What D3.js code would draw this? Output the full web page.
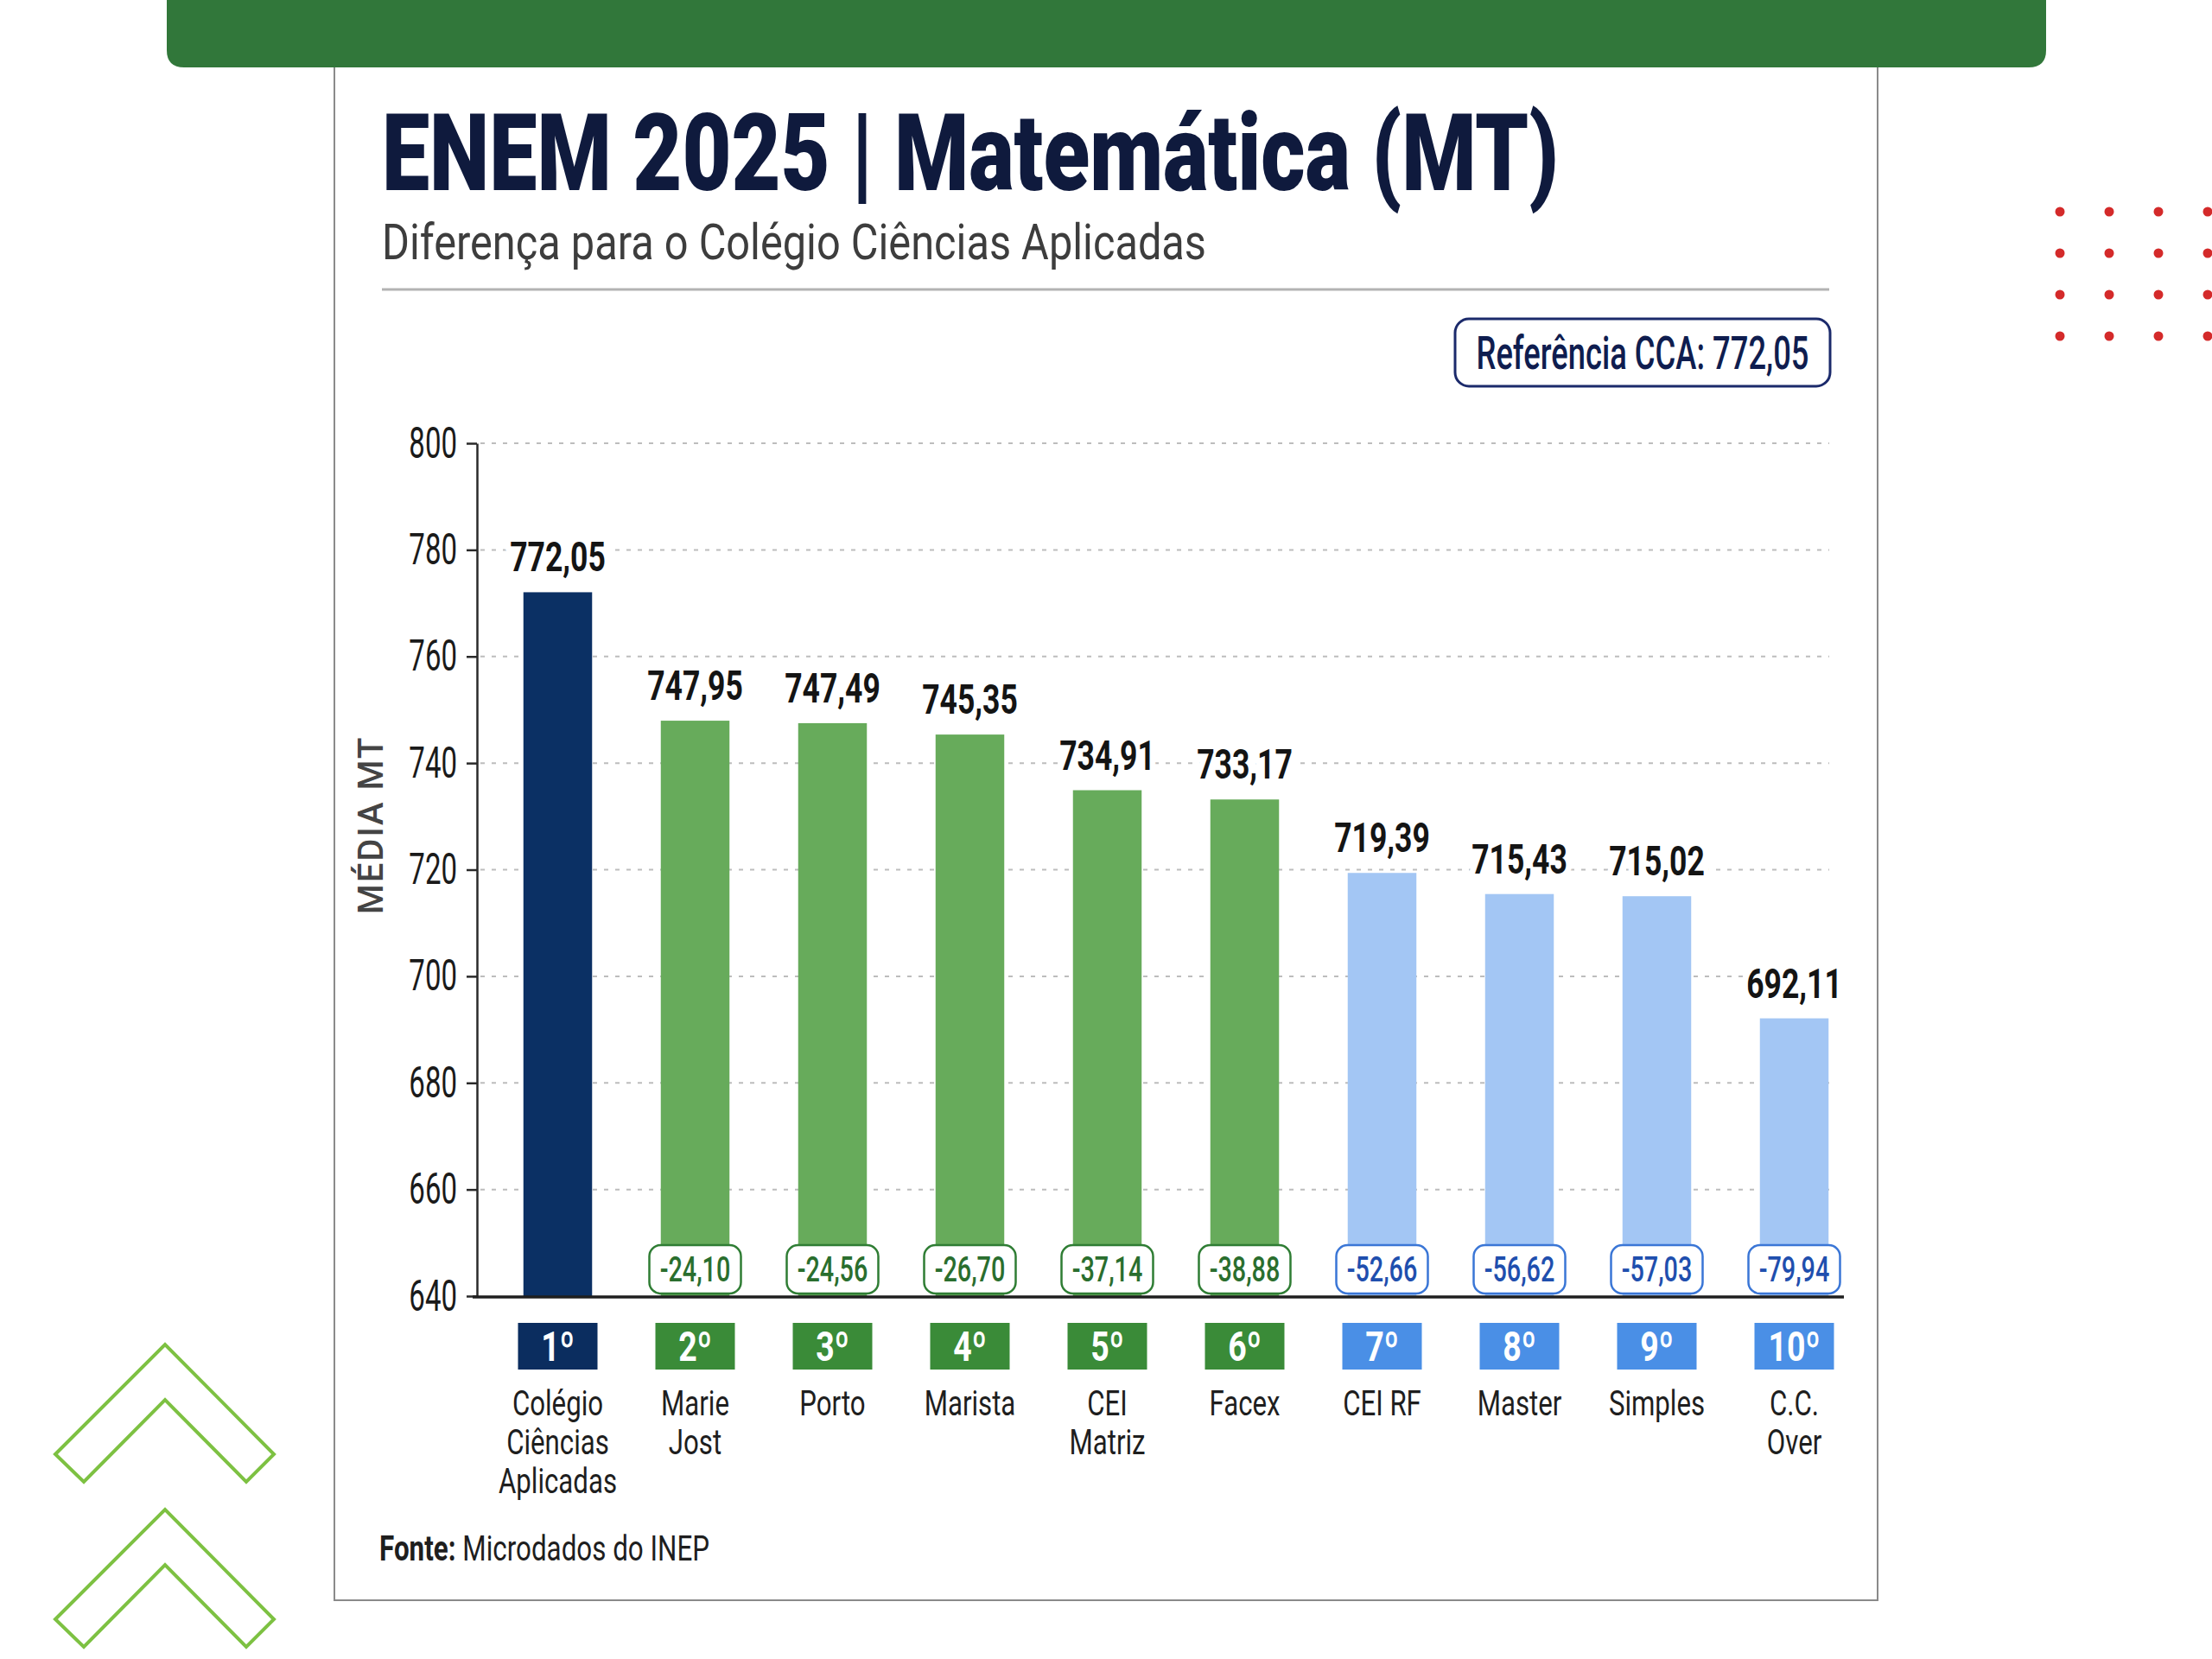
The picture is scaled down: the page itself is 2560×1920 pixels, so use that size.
<!DOCTYPE html>
<html>
<head>
<meta charset="utf-8">
<script src="https://cdn.jsdelivr.net/npm/d3@7"></script>
<style>
  body { margin: 0; background: #ffffff; }
  svg { display: block; font-family: Roboto, "Noto Sans", sans-serif; }
</style>
</head>
<body>
<div id="chart"></div>
<script>
// Chart data
const schools = ['Colégio Ciências Aplicadas', 'Marie Jost', 'Porto', 'Marista', 'CEI Matriz',
                 'Facex', 'CEI RF', 'Master', 'Simples', 'C.C. Over'];
const schoolLines = [['Colégio', 'Ciências', 'Aplicadas'], ['Marie', 'Jost'], ['Porto'], ['Marista'],
                     ['CEI', 'Matriz'], ['Facex'], ['CEI RF'], ['Master'], ['Simples'], ['C.C.', 'Over']];
const scores = [772.05, 747.95, 747.49, 745.35, 734.91, 733.17, 719.39, 715.43, 715.02, 692.11];
const diffs = [null, -24.10, -24.56, -26.70, -37.14, -38.88, -52.66, -56.62, -57.03, -79.94];
const ranks = ['1º', '2º', '3º', '4º', '5º', '6º', '7º', '8º', '9º', '10º'];
const tiers = ['ref', 'green', 'green', 'green', 'green', 'green', 'blue', 'blue', 'blue', 'blue'];
const yTicks = [640, 660, 680, 700, 720, 740, 760, 780, 800];
const yDomain = [640, 800];
const referenceScore = 772.05;

const W = 2560, H = 1920;

const barColor = { ref: '#0b3064', green: '#67ab5b', blue: '#a3c6f4' };
const badgeColor = { ref: '#0b2d5f', green: '#3a8b38', blue: '#4a8fe6' };
const diffStroke = { green: '#2f7d34', blue: '#3a76d6' };
const diffText = { green: '#2a6e2e', blue: '#1f4fae' };

const fmt = v => v.toFixed(2).replace('.', ',');

// squeeze text horizontally so the regular font reads like a condensed face
function condense(sel, k) {
    sel.each(function() {
        const len = this.getComputedTextLength();
        d3.select(this).attr('textLength', len * k).attr('lengthAdjust', 'spacingAndGlyphs');
    });
}
function fitWidth(sel, w) {
    sel.attr('textLength', w).attr('lengthAdjust', 'spacingAndGlyphs');
}

const svg = d3.select('#chart')
    .append('svg')
    .attr('width', W)
    .attr('height', H);

// Decorations: red dots (top right) and green chevrons (bottom left)
const dotG = svg.append('g');
d3.range(4).forEach(r => {
    d3.range(4).forEach(c => {
        dotG.append('circle')
            .attr('cx', 2384 + c * 57)
            .attr('cy', 245 + r * 48)
            .attr('r', 5.5)
            .attr('fill', '#d42a2a');
    });
});

const chevron = [[64, 127], [191, 0], [317, 127], [285, 159], [191, 64], [97, 159]];
[1556, 1747].forEach(top => {
    svg.append('polygon')
        .attr('points', chevron.map(p => `${p[0]},${p[1] + top}`).join(' '))
        .attr('fill', 'none')
        .attr('stroke', '#7dc142')
        .attr('stroke-width', 4)
        .attr('stroke-linejoin', 'miter');
});

// Card
svg.append('rect')
    .attr('x', 387)
    .attr('y', 40)
    .attr('width', 1786)
    .attr('height', 1812)
    .attr('fill', '#ffffff')
    .attr('stroke', '#8a8a8a')
    .attr('stroke-width', 2);

// Green header bar with rounded bottom corners
svg.append('path')
    .attr('d', 'M193,0 H2368 V58 Q2368,78 2348,78 H213 Q193,78 193,58 Z')
    .attr('fill', '#31773a');

// Title and subtitle
svg.append('text')
    .attr('x', 442)
    .attr('y', 220)
    .style('font-size', '124px')
    .style('font-weight', 900)
    .style('fill', '#0f1a3d')
    .text('ENEM 2025 | Matemática (MT)')
    .call(fitWidth, 1362);

svg.append('text')
    .attr('x', 442)
    .attr('y', 300)
    .style('font-size', '58px')
    .style('fill', '#3d3d3d')
    .text('Diferença para o Colégio Ciências Aplicadas')
    .call(fitWidth, 954);

svg.append('line')
    .attr('x1', 442)
    .attr('x2', 2117)
    .attr('y1', 335)
    .attr('y2', 335)
    .attr('stroke', '#b3b3b3')
    .attr('stroke-width', 3);

// Reference box
svg.append('rect')
    .attr('x', 1684)
    .attr('y', 369)
    .attr('width', 434)
    .attr('height', 78)
    .attr('rx', 16)
    .attr('fill', '#ffffff')
    .attr('stroke', '#1b2a6b')
    .attr('stroke-width', 3);

svg.append('text')
    .attr('x', 1901)
    .attr('y', 427)
    .attr('text-anchor', 'middle')
    .style('font-size', '54px')
    .style('font-weight', 500)
    .style('fill', '#0f1d4f')
    .text(`Referência CCA: ${fmt(referenceScore)}`)
    .call(fitWidth, 385);

// Scales
const x = d3.scaleBand()
    .domain(schools)
    .range([566, 2156])
    .paddingInner(0.5)
    .paddingOuter(0.25);

const y = d3.scaleLinear()
    .domain(yDomain)
    .range([1500, 513]);

const cx = i => x(schools[i]) + x.bandwidth() / 2;

// Dotted grid lines
svg.append('g')
    .selectAll('line')
    .data(yTicks.filter(t => t > yDomain[0]))
    .enter()
    .append('line')
    .attr('x1', 556)
    .attr('x2', 2117)
    .attr('y1', d => y(d))
    .attr('y2', d => y(d))
    .attr('stroke', '#bdbdbd')
    .attr('stroke-width', 2)
    .attr('stroke-dasharray', '5,8');

// Bars
const rows = schools.map((s, i) => ({ name: s, score: scores[i], diff: diffs[i], rank: ranks[i], tier: tiers[i], lines: schoolLines[i], i }));

svg.selectAll('.bar')
    .data(rows)
    .enter()
    .append('rect')
    .attr('class', 'bar')
    .attr('x', d => x(d.name))
    .attr('width', x.bandwidth())
    .attr('y', d => y(d.score))
    .attr('height', d => y(yDomain[0]) - y(d.score))
    .attr('fill', d => barColor[d.tier]);

// Value labels on top of bars
svg.selectAll('.bar-label')
    .data(rows)
    .enter()
    .append('text')
    .attr('class', 'bar-label')
    .attr('x', d => cx(d.i))
    .attr('y', d => y(d.score) - 24)
    .attr('text-anchor', 'middle')
    .style('font-size', '48px')
    .style('font-weight', 700)
    .style('fill', '#141414')
    .style('stroke', '#ffffff')
    .style('stroke-width', 18)
    .style('paint-order', 'stroke')
    .style('stroke-linejoin', 'round')
    .text(d => fmt(d.score))
    .call(condense, 0.74);

// Difference boxes at the bottom of the bars
const diffRows = rows.filter(d => d.diff !== null);
const boxW = 106, boxH = 56;

svg.selectAll('.diff-box')
    .data(diffRows)
    .enter()
    .append('rect')
    .attr('class', 'diff-box')
    .attr('x', d => cx(d.i) - boxW / 2)
    .attr('y', y(yDomain[0]) - boxH - 3)
    .attr('width', boxW)
    .attr('height', boxH)
    .attr('rx', 13)
    .attr('fill', '#ffffff')
    .attr('stroke', d => diffStroke[d.tier])
    .attr('stroke-width', 2.5);

svg.selectAll('.diff-label')
    .data(diffRows)
    .enter()
    .append('text')
    .attr('class', 'diff-label')
    .attr('x', d => cx(d.i))
    .attr('y', y(yDomain[0]) - boxH / 2 - 3)
    .attr('dy', '0.35em')
    .attr('text-anchor', 'middle')
    .style('font-size', '40px')
    .style('font-weight', 500)
    .style('fill', d => diffText[d.tier])
    .text(d => fmt(d.diff))
    .call(condense, 0.72);

// Y axis
const yAxis = d3.axisLeft(y)
    .tickValues(yTicks)
    .tickSize(12)
    .tickSizeOuter(0)
    .tickPadding(11)
    .tickFormat(d3.format('d'));

const yG = svg.append('g')
    .attr('transform', 'translate(552,0)')
    .call(yAxis);

yG.select('.domain')
    .attr('stroke', '#2a2a2a')
    .attr('stroke-width', 2.5);
yG.selectAll('.tick line')
    .attr('stroke', '#2a2a2a')
    .attr('stroke-width', 2.5);
yG.selectAll('.tick text')
    .style('font-family', 'Roboto, sans-serif')
    .style('font-size', '50px')
    .style('fill', '#1a1a1a')
    .call(condense, 0.66);

// X baseline
svg.append('line')
    .attr('x1', 547)
    .attr('x2', 2134)
    .attr('y1', y(yDomain[0]) + 1)
    .attr('y2', y(yDomain[0]) + 1)
    .attr('stroke', '#1f1f1f')
    .attr('stroke-width', 3.5);

// Y axis title
svg.append('text')
    .attr('transform', 'translate(443,955) rotate(-90)')
    .attr('text-anchor', 'middle')
    .style('font-size', '40px')
    .style('font-weight', 500)
    .style('letter-spacing', '2px')
    .style('fill', '#444444')
    .text('MÉDIA MT');

// Rank badges
const badgeW = 92, badgeH = 54, badgeTop = 1531;

svg.selectAll('.badge')
    .data(rows)
    .enter()
    .append('rect')
    .attr('class', 'badge')
    .attr('x', d => cx(d.i) - badgeW / 2)
    .attr('y', badgeTop)
    .attr('width', badgeW)
    .attr('height', badgeH)
    .attr('fill', d => badgeColor[d.tier]);

svg.selectAll('.badge-label')
    .data(rows)
    .enter()
    .append('text')
    .attr('class', 'badge-label')
    .attr('x', d => cx(d.i))
    .attr('y', badgeTop + badgeH / 2)
    .attr('dy', '0.36em')
    .attr('text-anchor', 'middle')
    .style('font-size', '48px')
    .style('font-weight', 700)
    .style('fill', '#ffffff')
    .text(d => d.rank)
    .call(condense, 0.78);

// School names
rows.forEach(d => {
    d.lines.forEach((line, j) => {
        svg.append('text')
            .attr('x', cx(d.i))
            .attr('y', 1638 + j * 45)
            .attr('text-anchor', 'middle')
            .style('font-size', '40px')
            .style('fill', '#1e1e1e')
            .text(line)
            .call(condense, 0.78);
    });
});

// Source
const src = svg.append('text')
    .attr('x', 439)
    .attr('y', 1806)
    .style('font-size', '41px')
    .style('fill', '#1e1e1e');
src.append('tspan').style('font-weight', 700).text('Fonte:');
src.append('tspan').text(' Microdados do INEP');
src.call(fitWidth, 382);
</script>
</body>
</html>
